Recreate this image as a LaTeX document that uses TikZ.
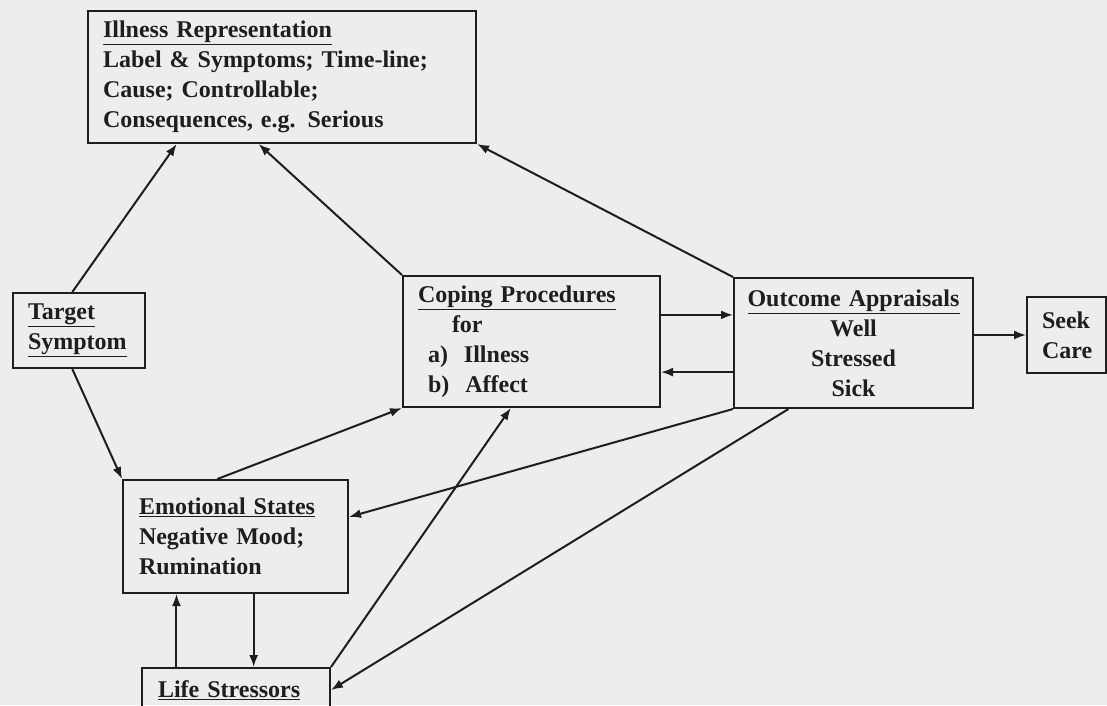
\documentclass[tikz,border=0pt]{standalone}
\usepackage{fontspec}
\setmainfont{Liberation Serif}
\usetikzlibrary{arrows.meta,calc}
\definecolor{paper}{HTML}{EDEDED}
\definecolor{ink}{HTML}{1E1E1E}
\newcommand{\nohyph}{\hyphenpenalty 10000 \exhyphenpenalty 10000\relax}
\tikzset{
  box/.style={draw=ink, line width=2pt, rectangle, inner xsep=15pt, inner ysep=3pt,
    text=ink, align=left,
    font=\fontsize{24}{30}\selectfont\bfseries\nohyph},
  link/.style={draw=ink, line width=2pt}
}

\begin{document}
\begin{tikzpicture}[x=1pt,y=-1pt,>={Latex[length=12pt,width=9pt]}]
  \fill[paper] (0,0) rectangle (1107,705);
  \useasboundingbox (0,0) rectangle (1107,705);

  \node[box, minimum width=388pt, minimum height=132pt, text width=358pt] (ir) at (282,77)
    {\underline{Illness Representation}\\ Label \& Symptoms; Time-line;\\ Cause; Controllable;\\ Consequences, e.g. Serious};
  \node[box, minimum width=132pt, minimum height=75pt, text width=102pt] (ts) at (79,330.5)
    {\underline{Target}\\ \underline{Symptom}};
  \node[box, minimum width=257pt, minimum height=131pt, text width=227pt] (cp) at (531.5,341.5)
    {\underline{Coping Procedures}\\ \hspace*{34pt}for\\ \hspace*{10pt}a)\ \ Illness\\ \hspace*{10pt}b)\ \ Affect};
  \node[box, minimum width=239pt, minimum height=130pt, inner xsep=10pt, text width=219pt, align=center] (oa) at (853.5,343)
    {\underline{Outcome Appraisals}\\ Well\\ Stressed\\ Sick};
  \node[box, minimum width=79pt, minimum height=76pt, text width=49pt] (sc) at (1066.5,335)
    {Seek\\ Care};
  \node[box, minimum width=225pt, minimum height=113pt, inner xsep=16pt, text width=193pt] (es) at (235.5,536.5)
    {\underline{Emotional States}\\ Negative Mood;\\ Rumination};
  \node[box, minimum width=188pt, minimum height=44pt, inner xsep=16pt, text width=156pt] (ls) at (236,690)
    {\underline{Life Stressors}};

  \draw[link,->] ($(ts.north west)!.45!(ts.north east)$) -- ($(ir.south west)!.23!(ir.south east)$);
  \draw[link,->] (cp.north west) -- ($(ir.south west)!.44!(ir.south east)$);
  \draw[link,->] (oa.north west) -- (ir.south east);
  \draw[link,->] ($(ts.south west)!.45!(ts.south east)$) -- (es.north west);
  \draw[link,->] ($(es.north west)!.42!(es.north east)$) -- (cp.south west);
  \draw[link,->] ($(cp.north east)!.3!(cp.south east)$) coordinate (cpout) -- (cpout -| oa.west);
  \draw[link,<-] ($(cp.north east)!.73!(cp.south east)$) coordinate (cpin) -- (cpin -| oa.west);
  \draw[link,->] (sc.west -| oa.east) -- (sc.west);
  \draw[link,->] (oa.south west) -- ($(es.north east)!.33!(es.south east)$);
  \draw[link,->] ($(oa.south west)!.23!(oa.south east)$) -- (ls.east);
  \draw[link,->] (ls.north east) -- ($(cp.south west)!.42!(cp.south east)$);
  \draw[link,->] ($(es.south west)!.58!(es.south east)$) coordinate (esdown) -- (esdown |- ls.north);
  \draw[link,<-] ($(es.south west)!.24!(es.south east)$) coordinate (esup) -- (esup |- ls.north);
\end{tikzpicture}
\end{document}
